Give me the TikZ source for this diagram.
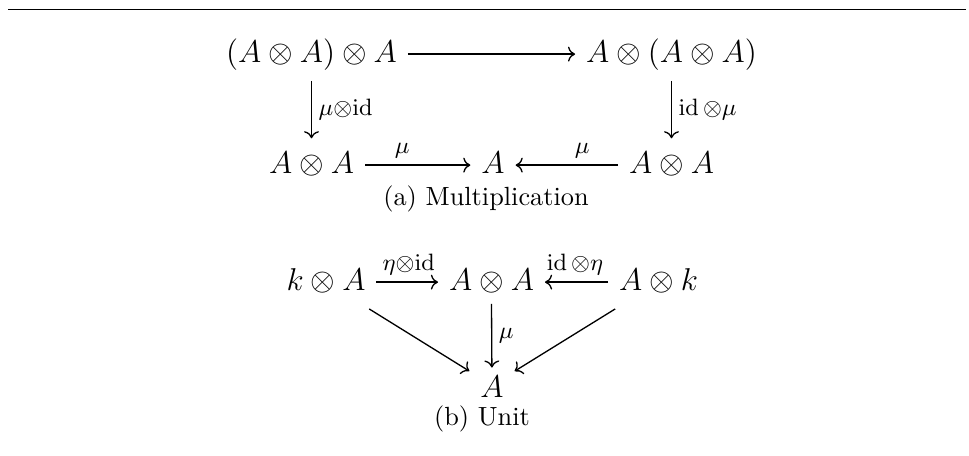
\documentclass[tikz,border=0pt]{standalone}
\usetikzlibrary{arrows.meta,calc}
\begin{document}
\begin{tikzpicture}[x=0.3802pt,y=-0.3802pt,
  obj/.style={font=\fontsize{12}{14}\selectfont, inner sep=4pt, text height=9pt, text depth=3pt, anchor=base},
  captext/.style={font=\fontsize{10}{12}\selectfont, inner sep=0pt, anchor=base},
  lab/.style={font=\fontsize{9}{10}\selectfont, inner sep=2.5pt},
  arr/.style={-{Computer Modern Rightarrow}, line width=0.5pt},
  rulestyle/.style={line width=0.5pt}]
\useasboundingbox (0,0) rectangle (969,455);
\draw[rulestyle] (8,9.3) -- (966,9.3);
% (a) Multiplication
\node[obj] (tl) at (311.5,62) {$(A\otimes A)\otimes A$};
\node[obj] (tr) at (671.5,62) {$A\otimes(A\otimes A)$};
\node[obj] (bl) at (311.5,173) {$A\otimes A$};
\node[obj] (bm) at (493,173) {$A$};
\node[obj] (br) at (671.5,173) {$A\otimes A$};
\draw[arr] (tl) -- (tr);
\draw[arr] (tl) -- node[lab,right]{$\mu{\otimes}\mathrm{id}$} (bl);
\draw[arr] (tr) -- node[lab,right]{$\mathrm{id}\,{\otimes}\mu$} (br);
\draw[arr] (bl) -- (bm);
\draw[arr] (br) -- (bm);
\node[lab,anchor=south] (lmu1) at ($(bl)!.5!(bm)$) {$\mu$};
\node[lab,anchor=south] (lmu2) at ($(br)!.5!(bm)$) {$\mu$};
\node[captext] (capa) at (486,205) {(a) Multiplication};
% (b) Unit
\node[obj] (ka) at (326,290) {$k\otimes A$};
\node[obj] (aa) at (491.5,290) {$A\otimes A$};
\node[obj] (ak) at (658.5,290) {$A\otimes k$};
\node[obj, text depth=0pt, inner ysep=2pt] (a) at (492,397) {$A$};
\draw[arr] (ka) -- (aa);
\draw[arr] (ak) -- (aa);
\node[lab,anchor=south] (leta1) at ($(ka)!.5!(aa)$) {$\eta{\otimes}\mathrm{id}$};
\node[lab,anchor=south] (leta2) at ($(ak)!.5!(aa)$) {$\mathrm{id}\,{\otimes}\eta$};
\draw[arr] (aa.south) ++(0,-5) -- node[lab,right]{$\mu$} (a);
\draw[arr] (ka) -- (a);
\draw[arr] (ak) -- (a);
\node[captext] (capb) at (482,425) {(b) Unit};
\end{tikzpicture}
\end{document}
